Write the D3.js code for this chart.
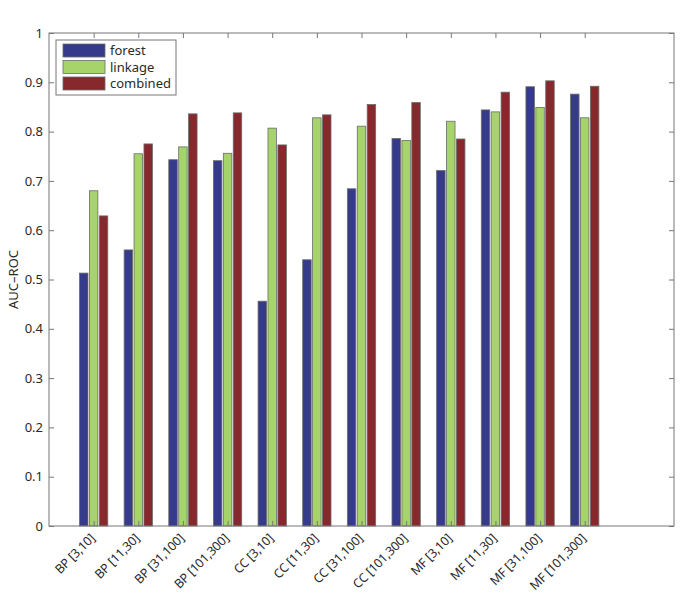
<!DOCTYPE html>
<html><head><meta charset="utf-8">
<script src="https://cdn.jsdelivr.net/npm/d3@7"></script>
<style>body{margin:0;background:#fff}</style>
</head><body>
<svg id="c" width="685" height="595"></svg>
<script>
const categories = ["BP [3,10]","BP [11,30]","BP [31,100]","BP [101,300]","CC [3,10]","CC [11,30]","CC [31,100]","CC [101,300]","MF [3,10]","MF [11,30]","MF [31,100]","MF [101,300]"];
const seriesNames = ["forest","linkage","combined"];
const forest   = [0.513,0.560,0.743,0.741,0.456,0.540,0.684,0.786,0.721,0.844,0.891,0.876];
const linkage  = [0.680,0.755,0.769,0.756,0.807,0.828,0.811,0.782,0.821,0.840,0.849,0.828];
const combined = [0.629,0.775,0.836,0.838,0.773,0.834,0.855,0.859,0.785,0.880,0.903,0.892];
const yTicks = [0,0.1,0.2,0.3,0.4,0.5,0.6,0.7,0.8,0.9,1];
const colors = ["#363a8a","#a6d46a","#87282d"];

const svg = d3.select("#c");
const L=49, R=674, T=33, B=526;
const x = d3.scaleLinear().domain([0,14]).range([L,R]);
const y = d3.scaleLinear().domain([0,1]).range([B,T]);
const font = "'Noto Sans', 'Open Sans', sans-serif";
const series = [forest, linkage, combined];
const step = 0.222, bw = 0.19;
const axisColor = "#777";
const textColor = "#2a2a2a";

const g = svg.append("g");
series.forEach((vals, si) => {
  g.selectAll(null).data(vals).enter().append("rect")
    .attr("x", (d,i) => x(i+1 + (si-1)*step - bw/2))
    .attr("width", x(bw)-x(0))
    .attr("y", d => y(d))
    .attr("height", d => y(0)-y(d))
    .attr("fill", colors[si])
    .attr("stroke", "#6b6b6b")
    .attr("stroke-width", 0.8);
});

// box
svg.append("rect").attr("x",L).attr("y",T).attr("width",R-L).attr("height",B-T)
  .attr("fill","none").attr("stroke",axisColor).attr("stroke-width",1);

// left axis
const yAxis = d3.axisLeft(y).tickValues(yTicks).tickSize(-5).tickPadding(6)
  .tickFormat(d => d3.format("~g")(d));
const ya = svg.append("g").attr("transform",`translate(${L},0)`).call(yAxis);
ya.select(".domain").remove();
ya.selectAll("line").attr("stroke",axisColor);
ya.selectAll("text").attr("font-family",font).attr("font-size",13).attr("fill",textColor);

// right axis ticks
const yr = svg.append("g").attr("transform",`translate(${R},0)`).call(d3.axisRight(y).tickValues(yTicks).tickSize(-5).tickFormat(""));
yr.select(".domain").remove(); yr.selectAll("line").attr("stroke",axisColor);

// bottom axis
const xTicks = categories.map((c,i)=>i+1);
const xa = svg.append("g").attr("transform",`translate(0,${B})`)
  .call(d3.axisBottom(x).tickValues(xTicks).tickSize(-5).tickFormat(""));
xa.select(".domain").remove(); xa.selectAll("line").attr("stroke",axisColor);
const xt = svg.append("g").attr("transform",`translate(0,${T})`)
  .call(d3.axisTop(x).tickValues(xTicks).tickSize(-5).tickFormat(""));
xt.select(".domain").remove(); xt.selectAll("line").attr("stroke",axisColor);

svg.append("g").selectAll("text").data(categories).enter().append("text")
  .attr("transform",(d,i)=>`translate(${x(i+1)-1},${B+10}) rotate(-45)`)
  .attr("text-anchor","end").attr("dy","0.35em")
  .attr("font-family",font).attr("font-size",12.5).attr("letter-spacing","-0.2")
  .attr("fill",textColor)
  .text(d=>d);

// y label
svg.append("text").attr("transform",`translate(13,${(T+B)/2}) rotate(-90)`)
  .attr("text-anchor","middle").attr("dy","0.35em").attr("font-family",font).attr("font-size",13).attr("fill",textColor)
  .text("AUC–ROC");

// legend
const lg = svg.append("g");
lg.append("rect").attr("x",56).attr("y",40).attr("width",120).attr("height",55)
  .attr("fill","#fff").attr("stroke",axisColor).attr("stroke-width",1);
seriesNames.forEach((n,i)=>{
  lg.append("rect").attr("x",63).attr("y",44+i*16.5).attr("width",42).attr("height",13)
    .attr("fill",colors[i]).attr("stroke","#6b6b6b").attr("stroke-width",0.8);
  lg.append("text").attr("x",110).attr("y",50.5+i*16.5).attr("dy","0.35em")
    .attr("font-family",font).attr("font-size",13).attr("fill",textColor).text(n);
});
</script>
</body></html>
